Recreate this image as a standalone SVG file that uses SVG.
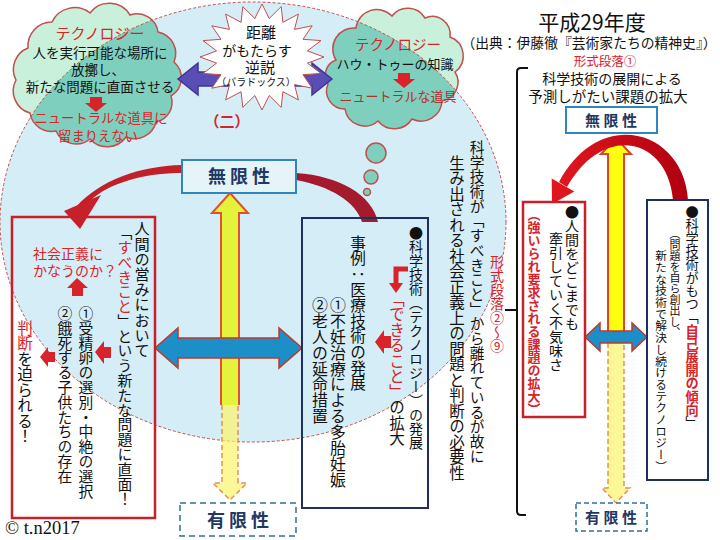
<svg xmlns="http://www.w3.org/2000/svg" width="720" height="540" viewBox="0 0 720 540">
<style>
.t{font-family:"Noto Sans CJK JP","Noto Sans",sans-serif;fill:#111}
.v{writing-mode:vertical-rl}
.r{fill:#d8232a}
.nv{fill:#1f3864;font-weight:bold}
.cloudOut{fill:#c8f0da}
.cloudIn{fill:#7fcfbe}
.cloudLine{fill:none;stroke:#c0504d;stroke-width:1.5}
.bub{fill:#7fcfbe;stroke:#c0504d;stroke-width:1.5}
.redA{fill:#d8232a}
.band{fill:#a31b2d}
.yel{fill:#e4f23c;stroke:#e0502c;stroke-width:2}
.yelR{fill:#ffff10;stroke:#e0402c;stroke-width:2}
.yelD{fill:#fbf36b;fill-opacity:0.7;stroke:#e8905a;stroke-width:1.5;stroke-dasharray:5,3}
.blue{fill:#1c8fc8;stroke:#c0392b;stroke-width:1.5}
</style>
<defs>
<clipPath id="ell"><ellipse cx="253" cy="222" rx="253" ry="220"/></clipPath>
<path id="cloudL" d="M 28 48 A 24 24 0 0 1 52 22 A 25 25 0 0 1 90 13 A 24 24 0 0 1 130 15 A 21 21 0 0 1 158 32 A 22 22 0 0 1 174 62 A 21 21 0 0 1 171 96 A 20 20 0 0 1 156 122 A 22 22 0 0 1 126 137 A 23 23 0 0 1 90 139 A 22 22 0 0 1 56 131 A 22 22 0 0 1 30 113 A 23 23 0 0 1 16 80 A 23 23 0 0 1 28 48 Z"/>
<path id="cloudR" d="M 336 60 A 21 21 0 0 1 356 28 A 21 21 0 0 1 392 16 A 20 20 0 0 1 425 18 A 18 18 0 0 1 450 37 A 20 20 0 0 1 455 72 A 19 19 0 0 1 442 101 A 21 21 0 0 1 412 119 A 21 21 0 0 1 378 121 A 20 20 0 0 1 345 109 A 18 18 0 0 1 328 84 A 16 16 0 0 1 336 60 Z"/>
<linearGradient id="archG" x1="0" y1="0" x2="1" y2="0">
<stop offset="0" stop-color="#e0161e"/><stop offset="1" stop-color="#b00010"/>
</linearGradient>
</defs>
<rect width="720" height="540" fill="#fff"/>
<ellipse id="field" cx="253" cy="222" rx="253" ry="220" fill="#d5edf6"/>

<g id="cloud-left">
<use href="#cloudL" class="cloudOut"/>
<use href="#cloudL" class="cloudIn" clip-path="url(#ell)"/>
<use href="#cloudL" class="cloudLine"/>
</g>
<g id="cloud-right">
<use href="#cloudR" class="cloudOut"/>
<use href="#cloudR" class="cloudIn" clip-path="url(#ell)"/>
<use href="#cloudR" class="cloudLine"/>
<circle class="bub" cx="376" cy="153" r="10"/>
<circle class="bub" cx="371" cy="177" r="7"/>
<circle class="bub" cx="367" cy="192" r="3.5"/>
</g>
<ellipse cx="253" cy="222" rx="253" ry="220" fill="none" stroke="#c0504d" stroke-width="1" stroke-dasharray="3,2"/>

<g id="connectors">
<polygon points="178,79 198,63 198,72 312,72 312,63 332,79 312,95 312,86 198,86 198,95" fill="#5a4db6" stroke="#3f3595" stroke-width="1.5"/>
<path class="redA" d="M 90 97 H 102 V 103 H 107 L 96 112 L 85 103 H 90 Z"/>
<path class="redA" d="M 398 73 H 410 V 79 H 415 L 404 88 L 393 79 H 398 Z"/>
<path class="yel" d="M 221 405 L 221 213 L 212 213 L 230 193 L 248 213 L 239 213 L 239 405"/>
<path class="yelD" d="M 222 405 L 222 483 L 213 483 L 230 500 L 247 483 L 238 483 L 238 405"/>
<path class="yelR" d="M 608 332 L 608 154 L 601 154 L 616 138 L 631 154 L 624 154 L 624 332"/>
<path class="yelD" d="M 608 343 L 608 488 L 602 488 L 616 503 L 630 488 L 624 488 L 624 343"/>
<path d="M 182 165 C 140 166, 100 180, 76 207 L 90 201 C 108 183, 145 173, 182 173 Z" fill="#c0202a"/>
<polygon points="80,229 64,211 101,195" fill="#c8202a"/>
<path class="band" d="M 296 173 C 340 176, 372 195, 378 222 L 362 222 C 356 202, 330 186, 296 180 Z"/>
<path d="M 688 200 C 684 130, 600 105, 559 182 L 567 187 C 604 122, 668 138, 673 200 Z" fill="url(#archG)"/>
<polygon points="552,204 551.7,178.5 574.3,191.5" fill="#e0161e"/>
<polygon class="blue" points="155,348 178,328 178,338 279,338 279,328 302,348 279,368 279,358 178,358 178,368"/>
<polygon class="blue" points="585,337 600,323 600,331 632,331 632,323 647,337 632,351 632,343 600,343 600,351"/>
<path class="redA" d="M 77 278 L 88 288 H 83 V 296 H 72 V 288 H 67 Z"/>
<path class="redA" d="M 95 352 L 104 341 V 347 H 111 V 358 H 104 V 364 Z"/>
<path class="redA" d="M 40 357 L 48 347 V 352 H 55 V 362 H 48 V 367 Z"/>
<path class="redA" d="M 375 342 L 384 330 V 336 H 391 V 348 H 384 V 354 Z"/>
<path d="M 408 269 H 396 V 284" fill="none" stroke="#d8232a" stroke-width="5"/>
<polygon class="redA" points="389,283 403,283 396,293"/>
</g>

<g id="starburst">
<polygon points="324,57 307.4,63.1 321,73.4 303,74.7 312.2,88.2 294.5,84.6 298.4,99.9 282.9,91.7 281.2,107.4 269.2,95.5 262,110 254.8,95.5 242.8,107.4 241.1,91.7 225.6,99.9 229.5,84.6 211.8,88.2 221,74.7 203,73.4 216.6,63.1 200,57 216.6,50.9 203,40.6 221,39.3 211.8,25.8 229.5,29.4 225.6,14.1 241.1,22.3 242.8,6.6 254.8,18.5 262,4 269.2,18.5 281.2,6.6 282.9,22.3 298.4,14.1 294.5,29.4 312.2,25.8 303,39.3 321,40.6 307.4,50.9" fill="#fff" stroke="#c0504d" stroke-width="1"/>
<text class="t" x="261" y="38" font-size="15" text-anchor="middle">距離</text>
<text class="t" x="257" y="56" font-size="14" text-anchor="middle">がもたらす</text>
<text class="t" x="260" y="73" font-size="15" text-anchor="middle">逆説</text>
<text class="t" x="256" y="86" font-size="10" text-anchor="middle">（パラドックス）</text>
</g>

<g id="cloud-left-text">
<text class="t r" x="100" y="39" font-size="15" text-anchor="middle">テクノロジー</text>
<text class="t" x="100" y="58" font-size="13.5" text-anchor="middle">人を実行可能な場所に</text>
<text class="t" x="98" y="75" font-size="13.5" text-anchor="middle">放擲し、</text>
<text class="t" x="100" y="92" font-size="13.5" text-anchor="middle">新たな問題に直面させる</text>
<text class="t r" x="101" y="123" font-size="13.3" text-anchor="middle">ニュートラルな道具に</text>
<text class="t r" x="98" y="141" font-size="13.3" text-anchor="middle">留まりえない</text>
</g>
<g id="cloud-right-text">
<text class="t r" x="398" y="50" font-size="14.5" text-anchor="middle">テクノロジー</text>
<text class="t" x="395" y="69" font-size="13" text-anchor="middle">ハウ・トゥーの知識</text>
<text class="t" x="398" y="101" font-size="13" text-anchor="middle" style="fill:#b03030">ニュートラルな道具</text>
</g>
<text class="t r" x="227" y="127" font-size="15" font-weight="bold" text-anchor="middle">（二）</text>

<g id="header">
<text class="t" x="592" y="30" font-size="21" text-anchor="middle">平成29年度</text>
<text class="t" x="589" y="48" font-size="13.8" text-anchor="middle">（出典：伊藤徹『芸術家たちの精神史』）</text>
<text class="t r" x="605" y="66" font-size="12.5" text-anchor="middle">形式段落①</text>
<text class="t" x="612" y="84" font-size="14" text-anchor="middle">科学技術の展開による</text>
<text class="t" x="608" y="102" font-size="14.5" text-anchor="middle">予測しがたい課題の拡大</text>
<path d="M 528 68 H 521 Q 517 68 517 72 V 511 Q 517 515 521 515 H 526 M 505 310 H 517" fill="none" stroke="#111" stroke-width="2"/>
</g>

<g id="inf-right">
<rect x="566" y="107" width="91" height="26" fill="#fff" stroke="#2e86c1" stroke-width="2"/>
<text class="t nv" x="611" y="126" font-size="15" text-anchor="middle">無 限 性</text>
</g>
<g id="fin-right">
<rect x="576" y="503" width="71" height="28" fill="#fff" stroke="#2e6f9e" stroke-width="1.5" stroke-dasharray="5,3"/>
<text class="t nv" x="611" y="523" font-size="15" text-anchor="middle">有 限 性</text>
</g>
<g id="inf-mid">
<rect x="182" y="160" width="114" height="33" fill="#e6f4fa" stroke="#2e86c1" stroke-width="2"/>
<text class="t nv" x="239" y="183" font-size="18" text-anchor="middle">無 限 性</text>
</g>
<g id="fin-mid">
<rect x="180" y="503" width="116" height="33" fill="#fff" stroke="#2e6f9e" stroke-width="1.5" stroke-dasharray="6,4"/>
<text class="t nv" x="238" y="527" font-size="18" text-anchor="middle">有 限 性</text>
</g>

<g id="box-left">
<rect x="12" y="217" width="143" height="301" fill="none" stroke="#c8202a" stroke-width="2.5"/>
<text class="t v" x="142" y="221" font-size="15.2">人間の営みにおいて</text>
<text class="t v" x="125" y="225" font-size="14.8">「<tspan class="r">すべきこと</tspan>」という新たな問題に直面！</text>
<text class="t r" x="33" y="259" font-size="14">社会正義に</text>
<text class="t r" x="33" y="276" font-size="14">かなうのか？</text>
<text class="t v" x="86" y="306" font-size="14.8">①受精卵の選別・中絶の選択</text>
<text class="t v" x="65" y="306" font-size="14.8">②餓死する子供たちの存在</text>
<text class="t v" x="25" y="320" font-size="15.5"><tspan class="r">判断</tspan>を迫られる！</text>
</g>

<g id="box-mid">
<rect x="302" y="218" width="126" height="290" fill="none" stroke="#1f2f5f" stroke-width="2"/>
<text class="t v" x="416" y="226" font-size="14">●科学技術（テクノロジー）の発展</text>
<text class="t v" x="397" y="291" font-size="15.5"><tspan class="r">「できること」</tspan>の拡大</text>
<text class="t v" x="358" y="235" font-size="15.6">事例：医療技術の発展</text>
<text class="t v" x="338" y="297" font-size="15.9">①不妊治療による多胎妊娠</text>
<text class="t v" x="320" y="297" font-size="15.9">②老人の延命措置</text>
</g>

<g id="middle-text">
<text class="t v" x="477" y="140" font-size="14.7">科学技術が「すべきこと」から離れているが故に</text>
<text class="t v" x="457" y="155" font-size="15.5">生み出される社会正義上の問題と判断の必要性</text>
<text class="t v r" x="497" y="255" font-size="14">形式段落②～⑨</text>
</g>

<g id="box-right-red">
<rect x="523" y="202" width="62" height="215" fill="#fff" stroke="#c8202a" stroke-width="2.5"/>
<text class="t v" x="572" y="205" font-size="14">●人間をどこまでも</text>
<text class="t v" x="556" y="232" font-size="14">牽引していく不気味さ</text>
<text class="t v r" x="534" y="208" font-size="13" font-weight="bold">（強いられ要求される課題の拡大）</text>
</g>

<g id="box-right-navy">
<rect x="647" y="200" width="61" height="280" fill="#fff" stroke="#1f2f5f" stroke-width="2"/>
<text class="t v" x="692" y="205" font-size="13.2">●科学技術がもつ「<tspan class="r" font-weight="bold">自己展開の傾向</tspan>」</text>
<text class="t v" x="675" y="228" font-size="11">（問題を自ら創出し、</text>
<text class="t v" x="661" y="250" font-size="11.7">新たな技術で解決し続けるテクノロジー）</text>
</g>

<text x="5" y="534" font-family="Liberation Serif, serif" font-size="18.5" fill="#111">© t.n2017</text>
</svg>
